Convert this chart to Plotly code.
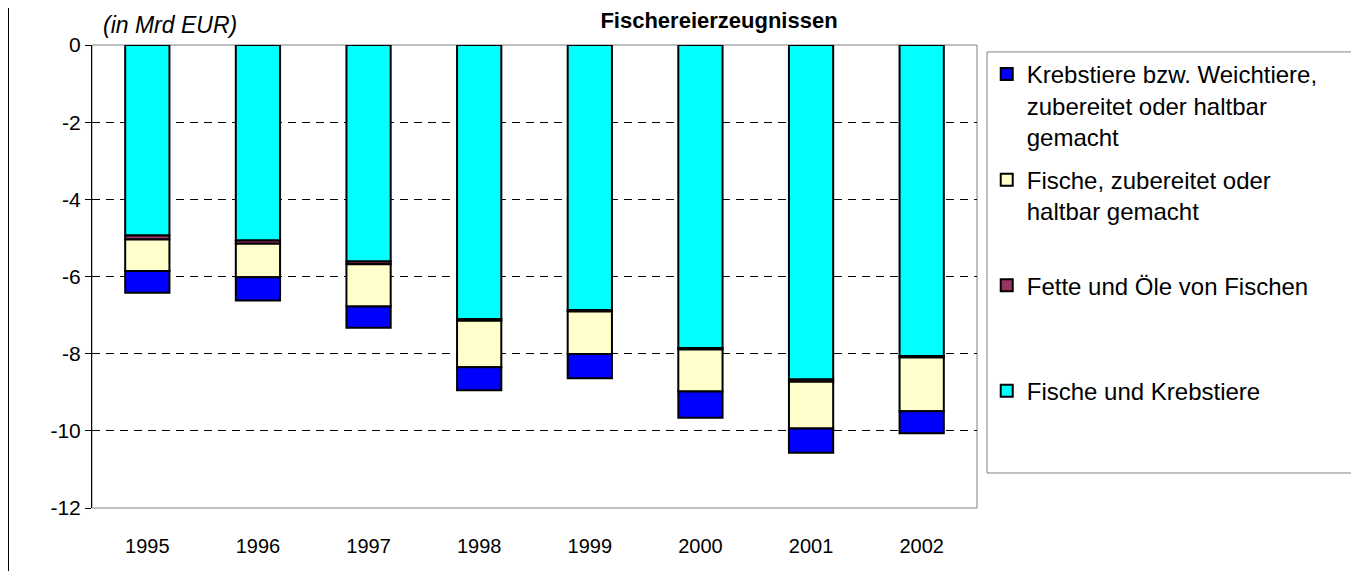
import plotly.graph_objects as go

years = ['1995', '1996', '1997', '1998', '1999', '2000', '2001', '2002']
fische_krebstiere = [-4.94, -5.07, -5.61, -7.10, -6.87, -7.85, -8.67, -8.06]
fette_oele = [-0.10, -0.08, -0.07, -0.05, -0.04, -0.04, -0.06, -0.04]
fische_zubereitet = [-0.82, -0.87, -1.10, -1.20, -1.10, -1.09, -1.21, -1.39]
krebstiere_zubereitet = [-0.56, -0.60, -0.55, -0.60, -0.63, -0.68, -0.63, -0.57]

y_ticks = [0, -2, -4, -6, -8, -10, -12]
y_labels = ['0', '-2', '-4', '-6', '-8', '-10', '-12']

names = ['Fische und Krebstiere<br>&nbsp;<br>&nbsp;',
         'Fette und Öle von Fischen<br>&nbsp;<br>&nbsp;',
         'Fische, zubereitet oder<br>haltbar gemacht<br>&nbsp;',
         'Krebstiere bzw. Weichtiere,<br>zubereitet oder haltbar<br>gemacht']
colors = ['#00FFFF', '#993366', '#FFFFCC', '#0000FF']
series = [fische_krebstiere, fette_oele, fische_zubereitet, krebstiere_zubereitet]

FONT = 'Liberation Sans, Arial, sans-serif'

fig = go.Figure()
for i, (name, col, vals) in enumerate(zip(names, colors, series)):
    # legend lists the series bottom-up, like the stack
    fig.add_trace(go.Bar(x=years, y=vals, name=name, legendgroup=f'g{i}',
                         legendrank=len(series) - i,
                         marker=dict(color=col, line=dict(color='black', width=2))))

# the page has an 8px body margin, so the figure is 8px smaller each way
W, H = 1351, 563
fig.update_layout(
    width=W, height=H,
    barmode='relative', bargap=0.6,
    plot_bgcolor='white', paper_bgcolor='white',
    margin=dict(l=84, r=382, t=37, b=63),
    font=dict(family=FONT, size=20, color='black'),
    showlegend=True,
    legend=dict(traceorder='grouped', tracegroupgap=9,
                x=1.011, xanchor='left', y=0.985, yanchor='top',
                borderwidth=0, bgcolor='rgba(0,0,0,0)', valign='top',
                font=dict(size=24), itemclick=False),
    title=dict(text='<b>Fischereierzeugnissen</b>', font=dict(size=22),
               x=711 / W, xref='container', xanchor='center',
               y=1 - 12 / H, yref='container', yanchor='middle'),
)
fig.update_xaxes(showgrid=False, showline=False, ticks='', ticklabelstandoff=24,
                 tickfont=dict(size=20))
fig.update_yaxes(range=[-12, 0], tickvals=y_ticks, ticktext=y_labels,
                 showgrid=True, gridcolor='black', gridwidth=1,
                 griddash='8px,6px', zeroline=False, showline=True, linecolor='black',
                 linewidth=1, ticks='outside', ticklen=6, tickcolor='black',
                 tickfont=dict(size=21))

# plot frame, legend frame (runs off the right edge) and outer chart border
fig.add_shape(type='rect', xref='paper', yref='paper', x0=0, x1=1, y0=0, y1=1,
              line=dict(color='#808080', width=1), layer='below')
fig.add_shape(type='rect', xref='paper', yref='paper', x0=1.0113, x1=1.5,
              y0=0.0756, y1=0.985, line=dict(color='#808080', width=1), layer='below')
fig.add_shape(type='line', xref='paper', yref='paper', x0=-0.0949, x1=-0.0949,
              y0=-0.2, y1=1.2, line=dict(color='black', width=2))
fig.add_annotation(text='<i>(in Mrd EUR)</i>', xref='paper', yref='paper',
                   x=(162 - 84) / 885, y=(500 - 17) / 463, showarrow=False,
                   xanchor='center', yanchor='middle', font=dict(size=23))

fig.write_html('out.html')
